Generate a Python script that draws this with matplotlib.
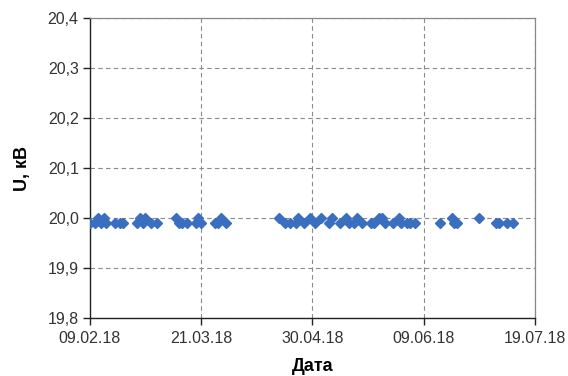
import datetime as dt
import matplotlib
matplotlib.use("Agg")
import matplotlib.pyplot as plt
import matplotlib.dates as mdates
from matplotlib.ticker import FixedLocator, FuncFormatter

plt.rcParams['font.family'] = ['Liberation Sans', 'DejaVu Sans']

# Measurement dates and voltage readings
dates = [
    "09.02.18", "11.02.18", "12.02.18", "13.02.18", "14.02.18", "15.02.18",
    "18.02.18", "20.02.18", "21.02.18", "26.02.18", "27.02.18", "28.02.18",
    "01.03.18", "03.03.18", "05.03.18", "12.03.18", "13.03.18", "14.03.18",
    "16.03.18", "19.03.18", "20.03.18", "21.03.18", "26.03.18", "27.03.18",
    "28.03.18", "30.03.18",
    "18.04.18", "20.04.18", "22.04.18", "24.04.18", "25.04.18", "27.04.18",
    "29.04.18", "01.05.18", "03.05.18", "06.05.18", "07.05.18", "10.05.18",
    "12.05.18", "13.05.18", "15.05.18", "16.05.18", "18.05.18", "21.05.18",
    "22.05.18", "24.05.18", "25.05.18", "26.05.18", "29.05.18", "31.05.18",
    "01.06.18", "03.06.18", "04.06.18", "06.06.18",
    "15.06.18", "19.06.18", "20.06.18", "21.06.18", "29.06.18",
    "05.07.18", "06.07.18", "09.07.18", "11.07.18",
]
voltage = [
    19.99, 19.99, 20.00, 19.99, 20.00, 19.99,
    19.99, 19.99, 19.99, 19.99, 20.00, 19.99,
    20.00, 19.99, 19.99, 20.00, 19.99, 19.99,
    19.99, 19.99, 20.00, 19.99, 19.99, 19.99,
    20.00, 19.99,
    20.00, 19.99, 19.99, 19.99, 20.00, 19.99,
    20.00, 19.99, 20.00, 19.99, 20.00, 19.99,
    20.00, 19.99, 19.99, 20.00, 19.99, 19.99,
    19.99, 20.00, 20.00, 19.99, 19.99, 20.00,
    19.99, 19.99, 19.99, 19.99,
    19.99, 20.00, 19.99, 19.99, 20.00,
    19.99, 19.99, 19.99, 19.99,
]

x_ticks = ["09.02.18", "21.03.18", "30.04.18", "09.06.18", "19.07.18"]
y_ticks = [19.8, 19.9, 20.0, 20.1, 20.2, 20.3, 20.4]


def parse(s):
    return dt.datetime.strptime(s, "%d.%m.%y")


xd = mdates.date2num([parse(s) for s in dates])
xt = mdates.date2num([parse(s) for s in x_ticks])

fig = plt.figure(figsize=(5.68, 3.76), dpi=100)
ax = fig.add_axes([0.158, 0.154, 0.784, 0.798])

ax.plot(xd, voltage, linestyle="none", marker="D", markersize=5.5,
        color="#3A6FC0", markeredgecolor="#3A6FC0", zorder=3)

ax.set_xlim(xt[0], xt[-1])
ax.set_ylim(y_ticks[0], y_ticks[-1])
ax.xaxis.set_major_locator(FixedLocator(xt))
ax.xaxis.set_major_formatter(FuncFormatter(lambda v, p: mdates.num2date(v).strftime("%d.%m.%y")))
ax.yaxis.set_major_locator(FixedLocator(y_ticks))
ax.yaxis.set_major_formatter(FuncFormatter(lambda v, p: f"{v:.1f}".replace(".", ",")))

ax.grid(True, color="#8a8a8a", linestyle=(0, (4, 3)), linewidth=0.8)
ax.set_axisbelow(True)

for side in ("top", "right"):
    ax.spines[side].set_color("#888888")
    ax.spines[side].set_linewidth(0.9)
for side in ("left", "bottom"):
    ax.spines[side].set_color("#222222")
    ax.spines[side].set_linewidth(1.0)

ax.tick_params(direction="out", length=5, width=1.0, color="#222222",
               labelsize=11.5, labelcolor="#333333")
ax.tick_params(axis="x", pad=4)
ax.tick_params(axis="y", pad=3)

ax.set_xlabel("Дата", fontsize=13, fontweight="bold", labelpad=9)
ax.set_ylabel("U, кВ", fontsize=13, fontweight="bold", labelpad=12)

fig.savefig("out.png", dpi=100)
